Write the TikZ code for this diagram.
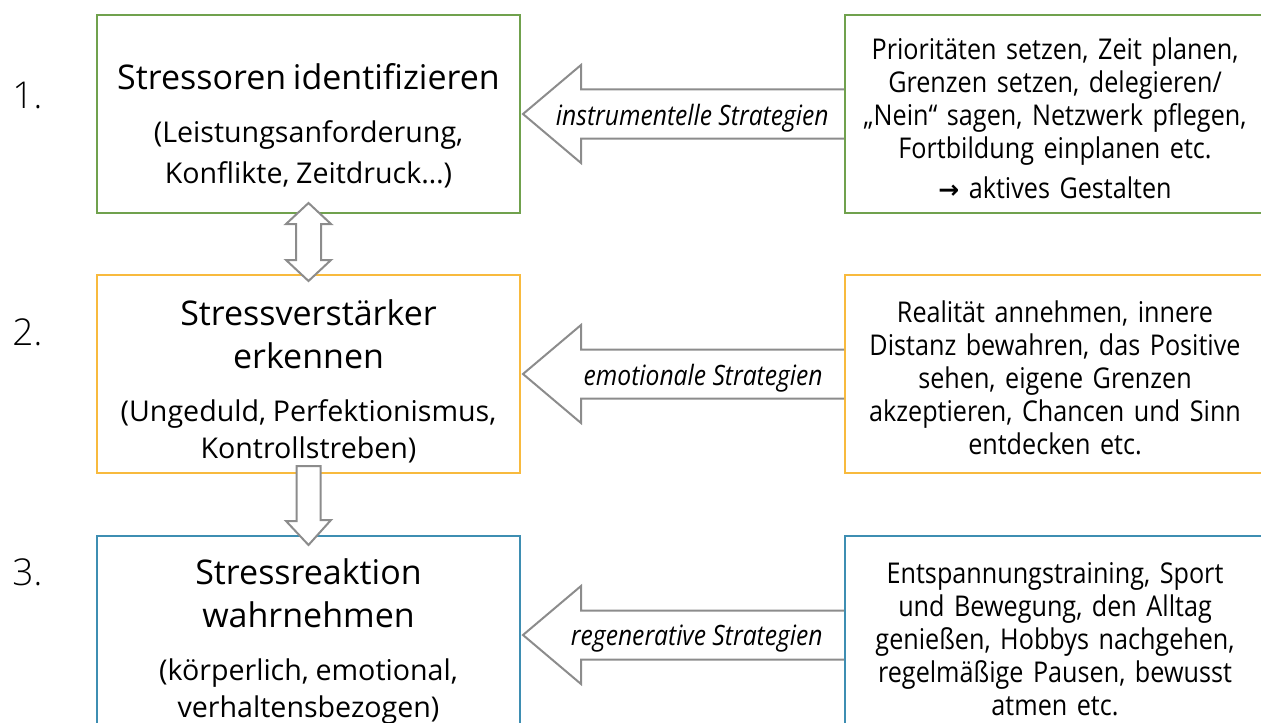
\documentclass[tikz,border=0pt]{standalone}
\usepackage{fontspec}
\setmainfont{Open Sans}
\newfontfamily\narrowfont{Open Sans}[FakeStretch=0.88]
\newfontfamily\numfont{Open Sans Light}
\newfontfamily\symfont{DejaVu Sans}
\usepackage{tikz}
\usetikzlibrary{positioning,calc}
\usepackage{xcolor}

\definecolor{stepgreen}{HTML}{70A14D}
\definecolor{stepgold}{HTML}{F8BA3E}
\definecolor{stepblue}{HTML}{3E8EB2}
\definecolor{arrowgray}{HTML}{8C8C8C}

\newcommand\toppad[1]{\rule{0pt}{#1}}
\newcommand\steptitle[1]{{\fontsize{17}{21.5}\selectfont #1\par}\vspace{8pt}}
\newcommand\stepsub[1]{{\fontsize{14.3}{18.5}\selectfont #1\par}}

\begin{document}
\begin{tikzpicture}
    [   x = 0.5pt
    ,   y = -0.5pt
    ,   stepbox/.style =
        {   draw
        ,   line width = 1pt
        ,   inner sep = 0pt
        ,   minimum width = 211.5pt
        ,   minimum height = 99pt
        ,   text width = 205pt
        ,   align = center
        }
    ,   tipbox/.style =
        {   draw
        ,   line width = 1pt
        ,   inner sep = 0pt
        ,   minimum width = 210pt
        ,   minimum height = 99pt
        ,   text width = 205pt
        ,   align = center
        ,   font = \narrowfont\fontsize{14.3}{16.5}\selectfont
        }
    ,   numlabel/.style =
        {   anchor = base west
        ,   inner sep = 0pt
        ,   font = \numfont\fontsize{18.5}{20}\selectfont
        }
    ,   howlabel/.style =
        {   anchor = east
        ,   inner sep = 0pt
        ,   font = \narrowfont\itshape\fontsize{14}{16}\selectfont
        }
    ,   blockarrow/.style =
        {   draw = arrowgray
        ,   line width = 1pt
        ,   line join = miter
        }
    ]
    \useasboundingbox (0,0) rectangle (1261,722);

    % left column: the three steps
    \node[stepbox, draw=stepgreen] (L1) at (308.5,114)
        {\steptitle{\toppad{24.5pt}Stressoren identifizieren}%
         \stepsub{(Leistungsanforderung,\\[2pt]Konflikte, Zeitdruck\dots)}};
    \node[stepbox, draw=stepgold, below=30pt of L1] (L2)
        {\steptitle{\toppad{20pt}Stressverstärker\\erkennen}%
         \stepsub{(Ungeduld, Perfektionismus,\\Kontrollstreben)}};
    \node[stepbox, draw=stepblue, below=30.5pt of L2] (L3)
        {\steptitle{\toppad{19.5pt}Stressreaktion\\wahrnehmen}%
         \stepsub{(körperlich, emotional,\\verhaltensbezogen)}};

    % right column: the strategies
    \node[tipbox, draw=stepgreen, right=161.5pt of L1] (R1)
        {\toppad{15pt}Prioritäten setzen, Zeit planen,\\
         Grenzen setzen, delegieren/\\
         „Nein“ sagen, Netzwerk pflegen,\\
         Fortbildung einplanen etc.\\[3.5pt]
         {\symfont\bfseries\fontsize{12.5}{12}\selectfont →} aktives Gestalten};
    \node[tipbox, draw=stepgold, right=161.5pt of L2] (R2)
        {\toppad{15pt}Realität annehmen, innere\\
         Distanz bewahren, das Positive\\
         sehen, eigene Grenzen\\
         akzeptieren, Chancen und Sinn\\
         entdecken etc.};
    \node[tipbox, draw=stepblue, right=161.5pt of L3] (R3)
        {\toppad{15pt}Entspannungstraining, Sport\\
         und Bewegung, den Alltag\\
         genießen, Hobbys nachgehen,\\
         regelmäßige Pausen, bewusst\\
         atmen etc.};

    % step numbers
    \node[numlabel] (N1) at (12,109) {1.};
    \node[numlabel] (N2) at (12,345) {2.};
    \node[numlabel] (N3) at (12,585) {3.};

    % block arrows from the strategies to the steps
    \foreach\i/\how/\gap in {1/instrumentelle/15,2/emotionale/21,3/regenerative/21}
    {   \draw[blockarrow]
            ($(R\i.west)+(0,-24.5)$) -- ($(L\i.east)+(60,-24.5)$)
         -- ($(L\i.east)+(60,-49)$) -- ($(L\i.east)+(2,0)$)
         -- ($(L\i.east)+(60,49)$) -- ($(L\i.east)+(60,24.5)$)
         -- ($(R\i.west)+(0,24.5)$);
        \node[howlabel] (S\i) at ($(R\i.west)+(-\gap,4)$) {\how{} Strategien};
    }

    % arrows between the steps
    \draw[blockarrow, fill=white]
        ($(L1.south)+(0,-11)$) -- ++(22.5,21) -- ++(-10,0) -- ++(0,36)
     -- ++(10,0) -- ($(L2.north)+(0,7)$) -- ++(-22.5,-21) -- ++(10,0)
     -- ++(0,-36) -- ++(-10,0) -- cycle;
    \draw[blockarrow, fill=white]
        ($(L2.south)+(-12,-8)$) -- ++(24,0) -- ++(0,54) -- ++(10.5,0)
     -- ($(L3.north)+(0,10)$) -- ++(-22.5,-24) -- ++(10.5,0) -- cycle;

\end{tikzpicture}
\end{document}
